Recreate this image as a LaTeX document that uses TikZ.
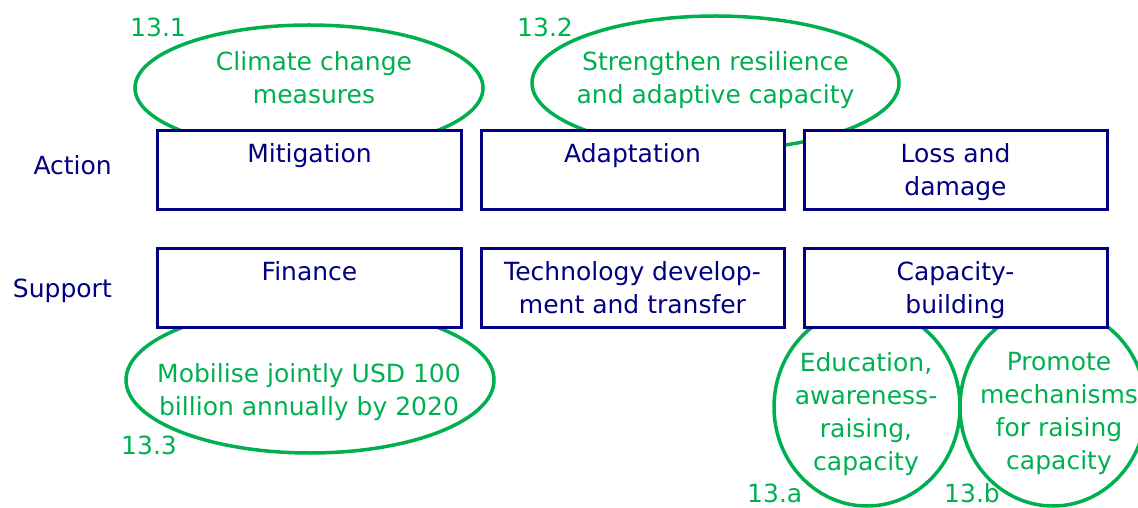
\documentclass[tikz,border=0pt]{standalone}
\usepackage{fontspec}
\setmainfont{DejaVu Sans}
\usetikzlibrary{shapes.geometric}
\definecolor{navyb}{RGB}{0,0,128}
\definecolor{sdggreen}{RGB}{0,176,80}
\begin{document}
\begin{tikzpicture}[x=1bp,y=-1bp,
  every node/.style={font=\fontsize{25bp}{33bp}\selectfont},
  goal/.style={ellipse, draw=sdggreen, line width=3.5bp, inner sep=0pt},
  goaltxt/.style={text=sdggreen, inner sep=0pt, anchor=north, align=center},
  tag/.style={text=sdggreen, inner sep=0pt, anchor=base west},
  area/.style={draw=navyb, fill=white, line width=3bp, inner sep=0pt,
    minimum width=303bp, minimum height=79bp, text=navyb},
  rowlabel/.style={text=navyb, inner sep=0pt, anchor=base east}]
\clip (0,0) rectangle (1138,508);
% target ellipses (behind the boxes)
\node[goal, minimum width=348bp, minimum height=126bp] (g1) at (309,88) {};
\node[goal, minimum width=367bp, minimum height=134bp] (g2) at (715.5,83) {};
\node[goal, minimum width=368bp, minimum height=146bp] (g3) at (310,380) {};
\node[goal, minimum width=186bp, minimum height=198bp] (ga) at (867,407) {};
\node[goal, minimum width=186bp, minimum height=198bp] (gb) at (1053,407) {};
% boxes
\node[area] (mit) at (309.5,170) {\parbox[c][79bp][t]{300bp}{\centering\rule{0pt}{32bp}Mitigation}};
\node[area] (ada) at (632.5,170) {\parbox[c][79bp][t]{300bp}{\centering\rule{0pt}{32bp}Adaptation}};
\node[area] (los) at (955.5,170) {\parbox[c][79bp][t]{300bp}{\centering\rule{0pt}{32bp}Loss and\\damage}};
\node[area] (fin) at (309.5,288.5) {\parbox[c][79bp][t]{300bp}{\centering\rule{0pt}{32bp}Finance}};
\node[area] (tec) at (632.5,288.5) {\parbox[c][79bp][t]{300bp}{\centering\rule{0pt}{32bp}Technology develop-\\ment and transfer}};
\node[area] (cap) at (955.5,288.5) {\parbox[c][79bp][t]{300bp}{\centering\rule{0pt}{32bp}Capacity-\\building}};
% row labels
\node[rowlabel] (act) at (112,175) {Action};
\node[rowlabel] (sup) at (112,298) {Support};
% ellipse texts
\node[goaltxt] (t1) at (314,50) {\rule{0pt}{20bp}Climate change\\measures};
\node[goaltxt] (t2) at (715.5,50) {\rule{0pt}{20bp}Strengthen resilience\\and adaptive capacity};
\node[goaltxt] (t3) at (309,362) {\rule{0pt}{20bp}Mobilise jointly USD 100\\billion annually by 2020};
\node[goaltxt] (ta) at (866,351) {\rule{0pt}{20bp}Education,\\awareness-\\raising,\\capacity};
\node[goaltxt] (tb) at (1059,350) {\rule{0pt}{20bp}Promote\\mechanisms\\for raising\\capacity};
% tags
\node[tag] (n1) at (130,37) {13.1};
\node[tag] (n2) at (517,37) {13.2};
\node[tag] (n3) at (121,454) {13.3};
\node[tag] (na) at (747,502) {13.a};
\node[tag] (nb) at (944,502) {13.b};
\end{tikzpicture}
\end{document}
